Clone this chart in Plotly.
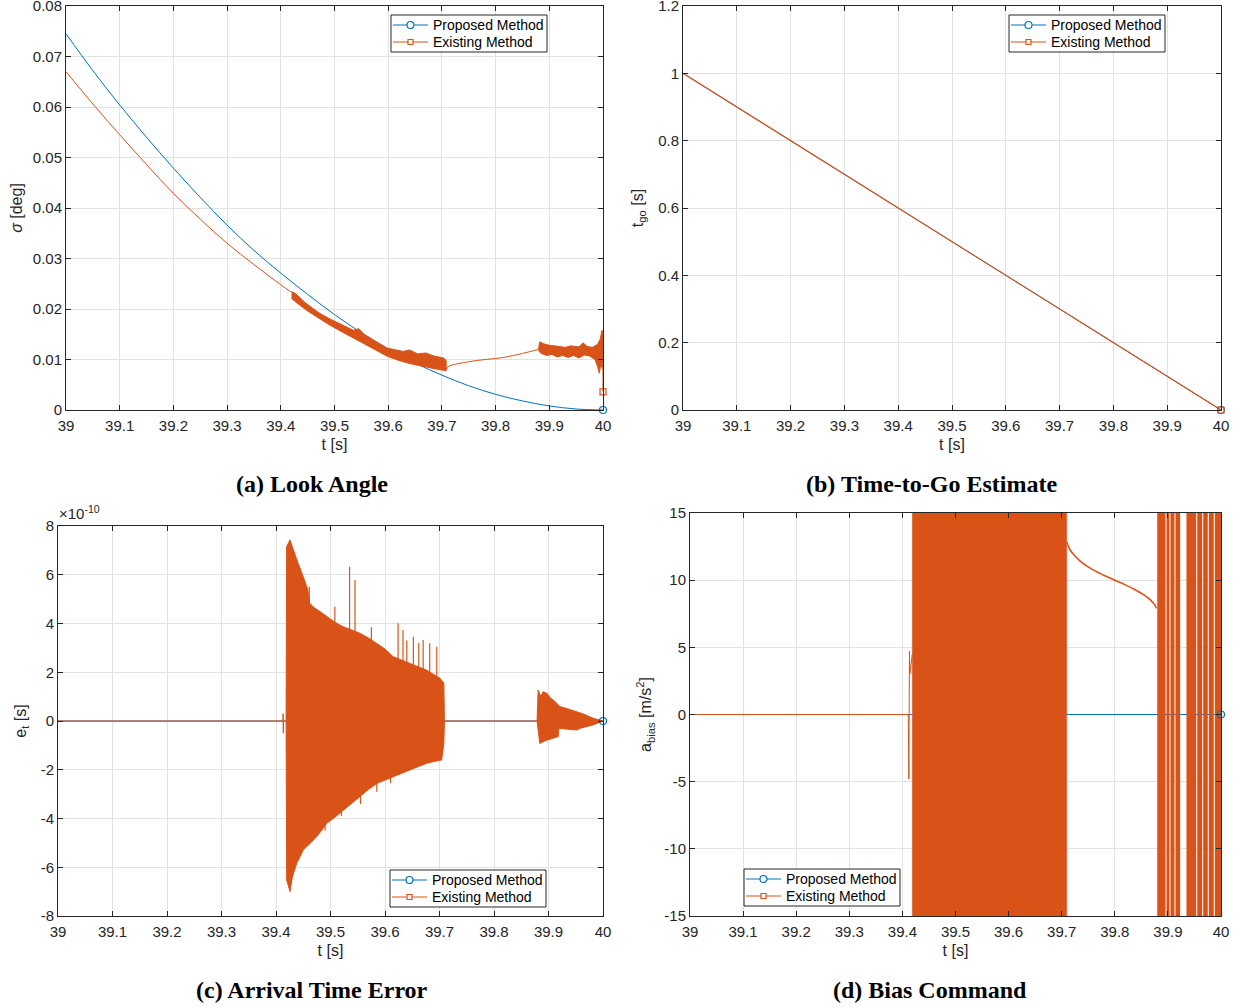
import plotly.graph_objects as go

BLUE = "#0072BD"
ORANGE = "#D95319"
INK = "#262626"
GRID = "#e2e2e2"
SANS = "Liberation Sans, Arial, Helvetica, sans-serif"
SERIF = "Liberation Serif, Times New Roman, serif"

# ---------------- (a) Look angle ----------------
sig_prop_t = [39.00, 39.05, 39.10, 39.15, 39.20, 39.25, 39.30, 39.35, 39.40, 39.45,
              39.50, 39.55, 39.60, 39.65, 39.70, 39.75, 39.80, 39.85, 39.90, 39.95, 40.00]
sig_prop = [0.0745, 0.0672, 0.0604, 0.0540, 0.0479, 0.0421, 0.0366, 0.0316, 0.0271, 0.0229,
            0.0189, 0.0153, 0.0121, 0.0093, 0.0069, 0.0048, 0.0031, 0.0018, 0.0008, 0.0002, 0.0000]

sig_ex_t = [39.00, 39.05, 39.10, 39.15, 39.20, 39.25, 39.30, 39.35, 39.40, 39.42]
sig_ex = [0.0670, 0.0606, 0.0545, 0.0486, 0.0429, 0.0378, 0.0330, 0.0288, 0.0248, 0.0233]

sig_band1_up_t = [39.420, 39.425, 39.430, 39.445, 39.460, 39.473, 39.490, 39.505, 39.520, 39.535,
                  39.545, 39.555, 39.575, 39.597, 39.610, 39.628, 39.640, 39.655, 39.670, 39.685,
                  39.703, 39.708]
sig_band1_up = [0.0234, 0.0232, 0.0228, 0.0213, 0.0201, 0.0191, 0.0181, 0.0173, 0.0166, 0.0158,
                0.0161, 0.0150, 0.0137, 0.0123, 0.0120, 0.0116, 0.0119, 0.0111, 0.0113, 0.0107,
                0.0103, 0.0098]
sig_band1_lo_t = [39.420, 39.430, 39.450, 39.473, 39.490, 39.510, 39.535, 39.560, 39.580, 39.597,
                  39.620, 39.640, 39.660, 39.680, 39.700, 39.708]
sig_band1_lo = [0.0221, 0.0212, 0.0196, 0.0180, 0.0169, 0.0157, 0.0143, 0.0128, 0.0117, 0.0107,
                0.0098, 0.0092, 0.0087, 0.0083, 0.0079, 0.0078]

sig_link_t = [39.708, 39.712, 39.752, 39.814, 39.850, 39.880]
sig_link = [0.0080, 0.0086, 0.0096, 0.0104, 0.0112, 0.0120]

sig_band2_up_t = [39.880, 39.882, 39.890, 39.900, 39.910, 39.920, 39.930, 39.940, 39.955, 39.963,
                  39.970, 39.980, 39.990, 39.995, 39.998, 40.000]
sig_band2_up = [0.0121, 0.0135, 0.0131, 0.0128, 0.0127, 0.0126, 0.0124, 0.0127, 0.0125, 0.0133,
                0.0126, 0.0124, 0.0130, 0.0141, 0.0158, 0.0150]
sig_band2_lo_t = [39.880, 39.885, 39.895, 39.905, 39.915, 39.925, 39.935, 39.945, 39.955, 39.965,
                  39.975, 39.985, 39.990, 39.993, 39.996, 40.000]
sig_band2_lo = [0.0117, 0.0112, 0.0108, 0.0110, 0.0105, 0.0108, 0.0104, 0.0108, 0.0103, 0.0109,
                0.0107, 0.0100, 0.0086, 0.0073, 0.0090, 0.0080]
sig_ex_end_t = [40.0, 40.0]
sig_ex_end = [0.0080, 0.0036]
sig_ticks = [0, 0.01, 0.02, 0.03, 0.04, 0.05, 0.06, 0.07, 0.08]
sig_ticktext = ["0", "0.01", "0.02", "0.03", "0.04", "0.05", "0.06", "0.07", "0.08"]

# ---------------- (b) Time-to-go ----------------
tgo_t = [39.0, 40.0]
tgo_prop = [1.0, 0.0]
tgo_ex = [1.0, 0.0]
tgo_ticks = [0, 0.2, 0.4, 0.6, 0.8, 1.0, 1.2]
tgo_ticktext = ["0", "0.2", "0.4", "0.6", "0.8", "1", "1.2"]

# ---------------- (c) Arrival time error (units of 1e-10 s) ----------------
et_prop_t = [39.0, 40.0]
et_prop = [0.0, 0.0]
et_base_t = [39.0, 39.4128, 39.4131, 39.4134, 39.4137, 39.4185, 39.709, 39.879, 40.0]
et_base = [0.0, 0.0, 0.30, -0.50, 0.0, 0.0, 0.0, 0.0, 0.0]

et_b1_up_t = [39.4185, 39.4195, 39.4257, 39.4290, 39.4320, 39.4400, 39.4500, 39.4580, 39.4620,
              39.4700, 39.4800, 39.4930, 39.5080, 39.5230, 39.5400, 39.5540, 39.5700, 39.5850,
              39.6000, 39.6150, 39.6300, 39.6460, 39.6600, 39.6760, 39.6900, 39.7010, 39.7080, 39.7090]
et_b1_up = [0.0, 7.15, 7.43, 7.20, 7.00, 6.50, 5.92, 5.40, 4.83,
            4.65, 4.50, 4.28, 4.05, 3.87, 3.72, 3.60, 3.40, 3.19,
            2.95, 2.64, 2.50, 2.37, 2.22, 2.09, 1.90, 1.75, 1.55, 0.0]
et_b1_lo_t = [39.4185, 39.4196, 39.4257, 39.4300, 39.4380, 39.4500, 39.4690, 39.4800, 39.4930,
              39.5080, 39.5230, 39.5400, 39.5540, 39.5700, 39.5850, 39.6000, 39.6150, 39.6300,
              39.6460, 39.6600, 39.6760, 39.6900, 39.7040, 39.7080, 39.7090]
et_b1_lo = [0.0, -6.52, -7.00, -6.40, -5.84, -5.29, -4.88, -4.60, -4.20,
            -3.95, -3.65, -3.35, -3.10, -2.80, -2.56, -2.42, -2.28, -2.15,
            -2.01, -1.88, -1.74, -1.66, -1.60, -0.92, 0.0]
et_spike_t = [39.461, 39.508, 39.535, 39.545, 39.575, 39.624, 39.633, 39.640, 39.652, 39.662,
              39.670, 39.682, 39.695, 39.490, 39.520, 39.555, 39.585, 39.610]
et_spike = [5.51, 4.69, 6.33, 5.78, 3.85, 4.01, 3.73, 3.30, 3.46, 3.20,
            3.32, 3.19, 3.05, -4.50, -3.90, -3.40, -2.90, -2.55]

et_b2_up_t = [39.879, 39.881, 39.886, 39.890, 39.897, 39.903, 39.909, 39.921, 39.935, 39.952,
              39.965, 39.982, 40.000]
et_b2_up = [0.0, 1.27, 1.00, 1.20, 1.14, 0.95, 0.86, 0.59, 0.50, 0.38, 0.28, 0.11, 0.0]
et_b2_lo_t = [39.879, 39.884, 39.895, 39.909, 39.918, 39.919, 39.935, 39.952, 39.958, 39.970,
              39.982, 40.000]
et_b2_lo = [0.0, -0.92, -0.80, -0.71, -0.64, -0.30, -0.33, -0.37, -0.30, -0.22, -0.16, 0.0]
et_ticks = [-8, -6, -4, -2, 0, 2, 4, 6, 8]
et_ticktext = ["-8", "-6", "-4", "-2", "0", "2", "4", "6", "8"]

# ---------------- (d) Bias command ----------------
ab_prop_t = [39.0, 40.0]
ab_prop = [0.0, 0.0]
ab_ex_pre_t = [39.0, 39.4110, 39.4122, 39.4127, 39.4133, 39.4140, 39.4187]
ab_ex_pre = [0.0, 0.0, -4.8, 0.0, 4.7, 3.0, 4.5]
ab_osc1 = [39.4187, 39.7094]          # oscillation far beyond +/-15
ab_osc_amp = 60.0
ab_ex_mid_t = [39.7094, 39.715, 39.725, 39.740, 39.760, 39.780, 39.800, 39.820, 39.840,
               39.855, 39.868, 39.876, 39.878]
ab_ex_mid = [12.87, 12.30, 11.80, 11.25, 10.75, 10.35, 10.00, 9.65, 9.25,
             8.90, 8.50, 8.10, 7.90]
ab_osc2_start = [39.8801, 39.8977, 39.9052, 39.9146, 39.9353, 39.9554, 39.9667, 39.9774, 39.9887]
ab_osc2_end = [39.8952, 39.9027, 39.9121, 39.9228, 39.9529, 39.9642, 39.9749, 39.9862, 40.0]
ab_ticks = [-15, -10, -5, 0, 5, 10, 15]
ab_ticktext = ["-15", "-10", "-5", "0", "5", "10", "15"]

x_ticks = [39.0, 39.1, 39.2, 39.3, 39.4, 39.5, 39.6, 39.7, 39.8, 39.9, 40.0]
x_ticktext = ["39", "39.1", "39.2", "39.3", "39.4", "39.5", "39.6", "39.7", "39.8", "39.9", "40"]

legend_labels = ["Proposed Method", "Existing Method"]


def band_poly(up_t, up, lo_t, lo):
    return list(up_t) + list(reversed(lo_t)), list(up) + list(reversed(lo))


def rects(starts, ends, amp):
    xs, ys = [], []
    for s, e in zip(starts, ends):
        xs += [s, s, e, e, s, None]
        ys += [-amp, amp, amp, -amp, -amp, None]
    return xs, ys


fig = go.Figure()


def line(x, y, color, xa, ya, width=1.0, opacity=1.0, fill=None, shape="linear"):
    fig.add_trace(go.Scatter(x=x, y=y, mode="lines", line=dict(color=color, width=width, shape=shape),
                             xaxis=xa, yaxis=ya, showlegend=False, opacity=opacity,
                             fill=fill, fillcolor=color if fill else None, hoverinfo="skip"))


def marker(x, y, color, symbol, xa, ya, size=7):
    fig.add_trace(go.Scatter(x=x, y=y, mode="markers", cliponaxis=False,
                             marker=dict(symbol=symbol, size=size, color=color,
                                         line=dict(color=color, width=1.2)),
                             xaxis=xa, yaxis=ya, showlegend=False, hoverinfo="skip"))


# (a)
line(sig_prop_t, sig_prop, BLUE, "x", "y", shape="spline")
line(sig_ex_t, sig_ex, ORANGE, "x", "y", shape="spline")
px, py = band_poly(sig_band1_up_t, sig_band1_up, sig_band1_lo_t, sig_band1_lo)
line(px, py, ORANGE, "x", "y", fill="toself")
line(sig_link_t, sig_link, ORANGE, "x", "y", shape="spline")
px, py = band_poly(sig_band2_up_t, sig_band2_up, sig_band2_lo_t, sig_band2_lo)
line(px, py, ORANGE, "x", "y", fill="toself")
line(sig_ex_end_t, sig_ex_end, ORANGE, "x", "y")
marker([sig_prop_t[-1]], [sig_prop[-1]], BLUE, "circle-open", "x", "y")
marker([sig_ex_end_t[-1]], [sig_ex_end[-1]], ORANGE, "square-open", "x", "y", size=6)

# (b)
line(tgo_t, tgo_prop, BLUE, "x2", "y2")
line(tgo_t, tgo_ex, ORANGE, "x2", "y2", width=1.1)
marker([tgo_t[-1]], [tgo_prop[-1]], BLUE, "circle-open", "x2", "y2")
marker([tgo_t[-1]], [tgo_ex[-1]], ORANGE, "square-open", "x2", "y2", size=6)

# (c)
line(et_prop_t, et_prop, BLUE, "x3", "y3")
line(et_base_t, et_base, ORANGE, "x3", "y3")
px, py = band_poly(et_b1_up_t, et_b1_up, et_b1_lo_t, et_b1_lo)
line(px, py, ORANGE, "x3", "y3", fill="toself")
sx, sy = [], []
for t, v in zip(et_spike_t, et_spike):
    sx += [t, t, None]
    sy += [0.0, v, None]
line(sx, sy, ORANGE, "x3", "y3", width=1.2)
px, py = band_poly(et_b2_up_t, et_b2_up, et_b2_lo_t, et_b2_lo)
line(px, py, ORANGE, "x3", "y3", fill="toself")
marker([et_prop_t[-1]], [et_prop[-1]], BLUE, "circle-open", "x3", "y3")

# (d)
line(ab_prop_t, ab_prop, BLUE, "x4", "y4")
line(ab_ex_pre_t, ab_ex_pre, ORANGE, "x4", "y4")
rx, ry = rects([ab_osc1[0]], [ab_osc1[1]], ab_osc_amp)
line(rx, ry, ORANGE, "x4", "y4", width=0.5, fill="toself")
line(ab_ex_mid_t, ab_ex_mid, ORANGE, "x4", "y4", width=1.6, shape="spline")
rx, ry = rects(ab_osc2_start, ab_osc2_end, ab_osc_amp)
line(rx, ry, ORANGE, "x4", "y4", width=0.3, fill="toself")
marker([ab_prop_t[-1]], [ab_prop[-1]], BLUE, "circle-open", "x4", "y4")

W, H = 1241, 1008


def PX(v):
    return v / W


def PY(v):
    return 1 - v / H


def dx(a, b):
    return [PX(a), PX(b)]


def dy(top, bot):
    return [PY(bot), PY(top)]


def ax(domain, rng, title, anchor, tickvals, ticktext, standoff, is_x):
    d = dict(domain=domain, range=rng, anchor=anchor, showline=True, linecolor=INK, linewidth=1,
             mirror="ticks", ticks="inside", ticklen=5, tickcolor=INK, showgrid=True,
             gridcolor=GRID, gridwidth=1, zeroline=False, ticklabeloverflow="allow",
             tickmode="array", tickvals=tickvals, ticktext=ticktext,
             tickfont=dict(family=SANS, size=15, color=INK),
             title=dict(text=title, font=dict(family=SANS, size=16, color=INK), standoff=standoff),
             automargin=False)
    if is_x:
        d["ticklabelstandoff"] = 2
    return d


fig.update_layout(
    width=W, height=H, margin=dict(l=0, r=0, t=0, b=0),
    paper_bgcolor="white", plot_bgcolor="white", showlegend=False,
    xaxis=ax(dx(66, 603), [39, 40], "t [s]", "y", x_ticks, x_ticktext, 5, True),
    yaxis=ax(dy(6, 410), [0, 0.08], "<i>σ</i> [deg]", "x", sig_ticks, sig_ticktext, 6, False),
    xaxis2=ax(dx(683, 1221), [39, 40], "t [s]", "y2", x_ticks, x_ticktext, 5, True),
    yaxis2=ax(dy(6, 410), [0, 1.2], "t<sub>go</sub> [s]", "x2", tgo_ticks, tgo_ticktext, 10, False),
    xaxis3=ax(dx(58, 603), [39, 40], "t [s]", "y3", x_ticks, x_ticktext, 5, True),
    yaxis3=ax(dy(526, 916), [-8, 8], "e<sub>t</sub> [s]", "x3", et_ticks, et_ticktext, 10, False),
    xaxis4=ax(dx(690, 1221), [39, 40], "t [s]", "y4", x_ticks, x_ticktext, 5, True),
    yaxis4=ax(dy(513, 916), [-15, 15], "a<sub>bias</sub> [m/s<sup>2</sup>]", "x4", ab_ticks, ab_ticktext, 8, False),
)

# MATLAB-style legend boxes drawn in paper coordinates
legend_corners = [(391, 15), (1009, 15), (390, 870), (744, 869)]
legend_colors = [BLUE, ORANGE]
for lx, ly in legend_corners:
    fig.add_shape(type="rect", xref="paper", yref="paper", x0=PX(lx), x1=PX(lx + 156),
                  y0=PY(ly + 37), y1=PY(ly), fillcolor="white", line=dict(color=INK, width=1),
                  layer="above")
    for i, (lab, col) in enumerate(zip(legend_labels, legend_colors)):
        yy = ly + 10 + 17 * i
        fig.add_shape(type="line", xref="paper", yref="paper", x0=PX(lx + 2), x1=PX(lx + 37),
                      y0=PY(yy), y1=PY(yy), line=dict(color=col, width=1), layer="above")
        cx = lx + 19.5
        if i == 0:
            fig.add_shape(type="circle", xref="paper", yref="paper", x0=PX(cx - 3.5), x1=PX(cx + 3.5),
                          y0=PY(yy + 3.5), y1=PY(yy - 3.5), fillcolor="white",
                          line=dict(color=col, width=1.2), layer="above")
        else:
            fig.add_shape(type="rect", xref="paper", yref="paper", x0=PX(cx - 2.5), x1=PX(cx + 2.5),
                          y0=PY(yy + 2.5), y1=PY(yy - 2.5), fillcolor="white",
                          line=dict(color=col, width=1.2), layer="above")
        fig.add_annotation(text=lab, x=PX(lx + 40), y=PY(yy), xref="paper", yref="paper",
                           xanchor="left", yanchor="middle", showarrow=False,
                           font=dict(family=SANS, size=14, color="#000"))

captions = [("(a) Look Angle", 312, 484), ("(b) Time-to-Go Estimate", 931, 484),
            ("(c) Arrival Time Error", 312, 990), ("(d) Bias Command", 930, 990)]
for text, cx, cy in captions:
    fig.add_annotation(text="<b>" + text + "</b>", x=PX(cx), y=PY(cy), xref="paper", yref="paper",
                       xanchor="center", yanchor="middle", showarrow=False,
                       font=dict(family=SERIF, size=24, color="#000"))

fig.add_annotation(text="×10<sup>-10</sup>", x=PX(57), y=PY(524), xref="paper", yref="paper",
                   xanchor="left", yanchor="bottom", showarrow=False,
                   font=dict(family=SANS, size=15, color=INK))

fig.write_html("out.html")
